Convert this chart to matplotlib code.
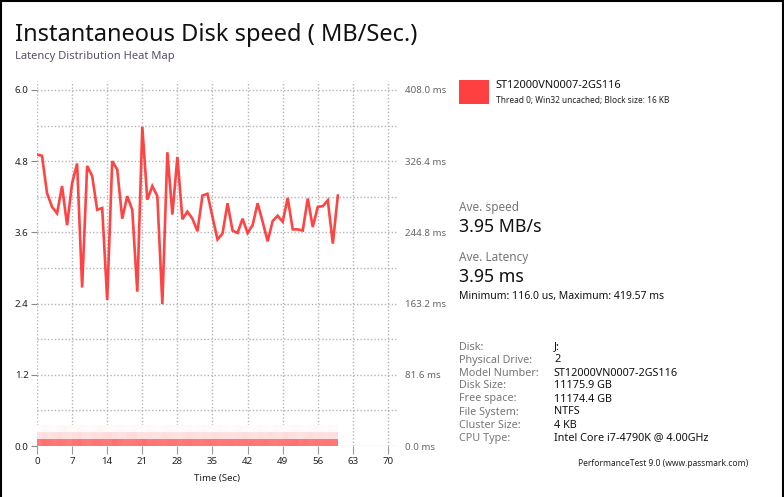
import numpy as np
import matplotlib
matplotlib.use('Agg')
import matplotlib.pyplot as plt
from matplotlib.colors import LinearSegmentedColormap

plt.rcParams['font.family'] = ['Noto Sans', 'DejaVu Sans']

# dane
czas = list(range(0, 61))
predkosc = [4.91, 4.89, 4.26, 4.03, 3.92, 4.38, 3.72, 4.43, 4.76, 2.67,
            4.72, 4.55, 3.98, 4.01, 2.46, 4.80, 4.66, 3.83, 4.21, 3.98,
            2.60, 5.38, 4.15, 4.38, 4.21, 2.39, 4.95, 3.90, 4.87, 3.82,
            3.95, 3.83, 3.62, 4.22, 4.25, 3.86, 3.48, 3.58, 4.09, 3.63,
            3.59, 3.83, 3.59, 3.72, 4.09, 3.78, 3.45, 3.79, 3.88, 3.78,
            4.18, 3.65, 3.65, 3.63, 4.17, 3.69, 4.03, 4.04, 4.14, 3.41,
            4.22]

# mapa cieplna opóźnień (3 przedziały x 60 sekund)
opoznienie_pasma = [0.0, 0.12, 0.24, 0.36]
wiersz0 = [0.70, 0.74, 0.72, 0.70, 0.73, 0.71, 0.69, 0.72, 0.74, 0.71,
           0.70, 0.73, 0.72, 0.70, 0.71, 0.74, 0.72, 0.70, 0.69, 0.71,
           0.73, 0.75, 0.70, 0.72, 0.71, 0.69, 0.73, 0.72, 0.70, 0.71,
           0.72, 0.70, 0.69, 0.71, 0.73, 0.72, 0.70, 0.71, 0.72, 0.70,
           0.71, 0.72, 0.73, 0.70, 0.71, 0.72, 0.70, 0.69, 0.71, 0.72,
           0.73, 0.74, 0.71, 0.72, 0.70, 0.72, 0.71, 0.73, 0.72, 0.71]
wiersz1 = [0.16, 0.18, 0.15, 0.17, 0.19, 0.16, 0.15, 0.17, 0.18, 0.16,
           0.15, 0.17, 0.16, 0.18, 0.19, 0.17, 0.15, 0.16, 0.18, 0.19,
           0.15, 0.16, 0.17, 0.15, 0.16, 0.18, 0.17, 0.16, 0.15, 0.17,
           0.18, 0.16, 0.15, 0.17, 0.16, 0.18, 0.17, 0.16, 0.15, 0.16,
           0.17, 0.18, 0.16, 0.15, 0.17, 0.16, 0.18, 0.17, 0.16, 0.19,
           0.17, 0.16, 0.15, 0.17, 0.18, 0.16, 0.17, 0.15, 0.16, 0.17]
wiersz2 = [0.02, 0.04, 0.03, 0.02, 0.04, 0.05, 0.03, 0.02, 0.04, 0.03,
           0.02, 0.03, 0.05, 0.04, 0.02, 0.03, 0.04, 0.03, 0.02, 0.04,
           0.03, 0.02, 0.04, 0.03, 0.02, 0.03, 0.04, 0.03, 0.02, 0.03,
           0.04, 0.02, 0.03, 0.04, 0.03, 0.02, 0.04, 0.03, 0.02, 0.03,
           0.04, 0.03, 0.02, 0.03, 0.04, 0.03, 0.02, 0.04, 0.03, 0.02,
           0.03, 0.04, 0.03, 0.02, 0.03, 0.04, 0.03, 0.02, 0.04, 0.03]

xticki = [0, 7, 14, 21, 28, 35, 42, 49, 56, 63, 70]
yticki = [0.0, 1.2, 2.4, 3.6, 4.8, 6.0]
ms_etykiety = ['0.0 ms', '81.6 ms', '163.2 ms', '244.8 ms', '326.4 ms', '408.0 ms']

info_nazwy = ['Disk:', 'Physical Drive:', 'Model Number:', 'Disk Size:',
              'Free space:', 'File System:', 'Cluster Size:', 'CPU Type:']
info_wartosci = ['J:', '2', 'ST12000VN0007-2GS116', '11175.9 GB',
                 '11174.4 GB', 'NTFS', '4 KB', 'Intel Core i7-4790K @ 4.00GHz']

czerwony = '#FF4040'
W, H = 784, 497

fig = plt.figure(figsize=(W / 100, H / 100), dpi=100)
fig.patch.set_facecolor('white')

def px(x, y):
    return x / W, 1 - y / H

ax = fig.add_axes([37 / W, (H - 446) / H, (398 - 37) / W, (446 - 81) / H])
ax.set_xlim(0, 72)
ax.set_ylim(0, 6.15)
for s in ax.spines.values():
    s.set_visible(False)

# mapa cieplna
cmap = LinearSegmentedColormap.from_list('bialo_czerwony', ['#FFFFFF', czerwony])
siatka = np.array([wiersz0, wiersz1, wiersz2])
ax.pcolormesh(np.arange(0, 61), opoznienie_pasma, siatka, cmap=cmap, vmin=0, vmax=1,
              shading='flat', zorder=1)

ax.plot(czas, predkosc, color='#FF3030', lw=1.9, alpha=0.9, zorder=3,
        solid_joinstyle='miter')

ax.set_xticks(xticki)
ax.set_xticklabels([str(t) for t in xticki])
ax.set_yticks(yticki)
ax.set_yticklabels([f'{v:.1f}' for v in yticki])
ax.set_yticks([0.6, 1.8, 3.0, 4.2, 5.4], minor=True)
ax.tick_params(axis='y', which='major', length=4, color='#888888', labelsize=7, pad=2,
               labelcolor='#222222')
ax.tick_params(axis='y', which='minor', length=0)
ax.tick_params(axis='x', length=6, color='#999999', labelsize=7, pad=2, labelcolor='#222222')
ax.grid(True, which='both', color='#b4b4b4', linestyle=(0, (1, 1.5)), lw=1, zorder=0)
ax.set_axisbelow(True)
ax.set_xlabel('Time (Sec)', fontsize=7, labelpad=6, color='#222222')

ax2 = ax.twinx()
ax2.set_ylim(0, 6.15 * 68)
ax2.set_yticks([v * 68 for v in yticki])
ax2.set_yticklabels(ms_etykiety)
ax2.tick_params(axis='y', length=0, labelsize=7, pad=5, labelcolor='#666666')
for s in ax2.spines.values():
    s.set_visible(False)

# nagłówki
fig.text(*px(15, 35), 'Instantaneous Disk speed ( MB/Sec.)', fontsize=17, va='center',
         ha='left', color='#111111')
fig.text(*px(15, 57), 'Latency Distribution Heat Map', fontsize=8, va='center',
         ha='left', color='#5a4f6a')

# legenda
fig.patches.append(plt.Rectangle(px(459, 104), 30 / W, 24 / H, transform=fig.transFigure,
                                 facecolor=czerwony, edgecolor='none'))
fig.text(*px(496, 86), 'ST12000VN0007-2GS116', fontsize=7.9, va='center', ha='left',
         color='#111111')
fig.text(*px(496, 100), 'Thread 0; Win32 uncached; Block size: 16 KB', fontsize=6,
         va='center', ha='left', color='#222222')

# podsumowanie
fig.text(*px(459, 207), 'Ave. speed', fontsize=8.5, va='center', ha='left', color='#777777')
fig.text(*px(459, 227), '3.95 MB/s', fontsize=12.8, va='center', ha='left', color='#111111')
fig.text(*px(459, 258), 'Ave. Latency', fontsize=8.5, va='center', ha='left', color='#777777')
fig.text(*px(459, 277), '3.95 ms', fontsize=12.8, va='center', ha='left', color='#111111')
fig.text(*px(459, 296), 'Minimum: 116.0 us, Maximum: 419.57 ms', fontsize=7.5, va='center',
         ha='left', color='#111111')

for i, (n, w) in enumerate(zip(info_nazwy, info_wartosci)):
    y = 347 + i * 13
    fig.text(*px(459, y), n, fontsize=7.8, va='center', ha='left', color='#777777')
    fig.text(*px(554, y), w, fontsize=7.8, va='center', ha='left', color='#111111')

fig.text(*px(748, 463), 'PerformanceTest 9.0 (www.passmark.com)', fontsize=6.1, va='center',
         ha='right', color='#222222')

# ramka okna
for xs, ys in [((0.5, 0.5), (0, H)), ((0, W), (0.5, 0.5)), ((W - 1.5, W - 1.5), (0, H))]:
    fig.add_artist(plt.Line2D([x / W for x in xs], [1 - y / H for y in ys],
                              transform=fig.transFigure, color='black', lw=1.5))

fig.savefig('out.png', dpi=100)
